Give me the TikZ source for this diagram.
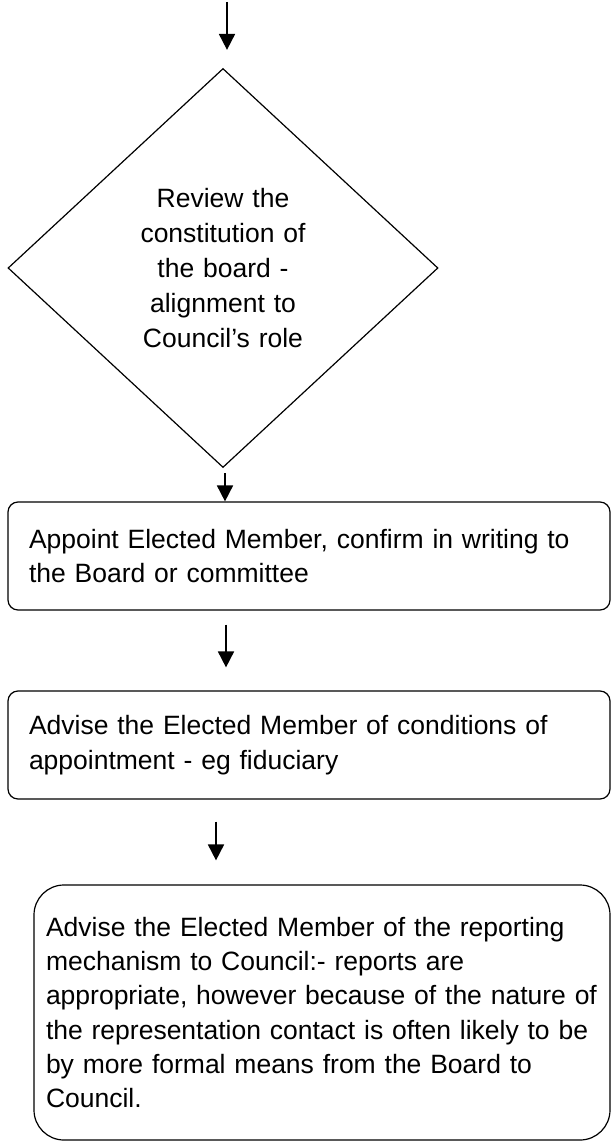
\documentclass[tikz,border=0pt]{standalone}
\usepackage{fontspec}
\setmainfont{Liberation Sans}
\usepackage{tikz}
\usetikzlibrary{shapes.geometric, arrows.meta, positioning}

\begin{document}
\begin{tikzpicture}[
    x=1pt, y=-1pt,
    % Styles
    decision/.style={diamond, draw=black, line width=1.2pt, minimum width=430pt, minimum height=399pt, inner sep=0pt, text width=180pt, align=center, font=\fontsize{26.5}{35}\selectfont},
    stepbox/.style={rectangle, draw=black, line width=1.2pt, minimum width=602pt, minimum height=108pt, text width=560pt, align=left, rounded corners=10pt, font=\fontsize{26.5}{34.5}\selectfont},
    notebox/.style={rectangle, draw=black, line width=1.2pt, minimum width=576pt, minimum height=255pt, text width=552pt, align=left, rounded corners=30pt, font=\fontsize{26.5}{34.3}\selectfont},
    arrow/.style={-{Triangle[width=16pt,length=16pt]}, line width=1.8pt, color=black}
]
\useasboundingbox (0,0) rectangle (611,1147);

% Incoming arrow
\coordinate (entry) at (227,2);

% Review diamond
\node[decision] (review) at (223,268) {
    Review the\\
    constitution of\\
    the board -\\
    alignment to\\
    Council's role
};

% Steps
\node[stepbox] (appoint) at (309,556) {
    Appoint Elected Member, confirm in writing to\\
    the Board or committee
};

\node[stepbox] (conditions) at (309,745) {
    Advise the Elected Member of conditions of\\
    appointment - eg fiduciary
};

\node[notebox] (reporting) at (322,1012.5) {
    Advise the Elected Member of the reporting\\
    mechanism to Council:- reports are\\
    appropriate, however because of the nature of\\
    the representation contact is often likely to be\\
    by more formal means from the Board to\\
    Council.
};

% Arrows between boxes
\draw[arrow, shorten >=18pt] (entry) -- (entry |- review.north);
\draw[arrow, shorten <=5pt] ([xshift=2pt]review.south) -- ([xshift=2pt]review.south |- appoint.north);
\draw[arrow, shorten <=14pt, shorten >=23pt] ([xshift=-83pt]appoint.south) -- ([xshift=-83pt]appoint.south |- conditions.north);
\draw[arrow, shorten <=22pt, shorten >=24pt] ([xshift=-93pt]conditions.south) -- ([xshift=-93pt]conditions.south |- reporting.north);

\end{tikzpicture}
\end{document}
